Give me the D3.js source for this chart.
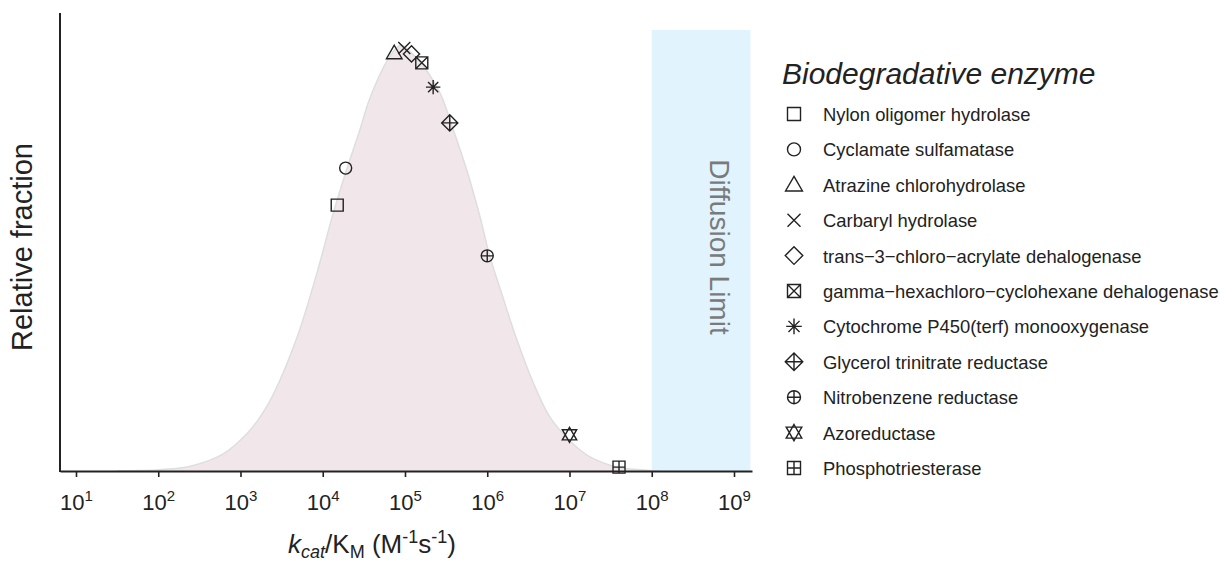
<!DOCTYPE html>
<html>
<head>
<meta charset="utf-8">
<script src="https://cdn.jsdelivr.net/npm/d3@7"></script>
<style>
  body { margin: 0; background: #ffffff; }
  text { font-family: "Liberation Sans", Arial, Helvetica, sans-serif; fill: #222; }
</style>
</head>
<body>
<div id="chart"></div>
<script>
// density curve (log10 of kcat/KM, relative fraction)
var curveLogK = [1.5, 1.78, 2.02, 2.39, 2.79, 3.08, 3.25, 3.40, 3.69, 3.93, 4.12, 4.29, 4.45, 4.57, 4.78, 4.90, 4.96,
                 5.02, 5.22, 5.43, 5.58, 5.75, 5.91, 6.03, 6.19, 6.36, 6.56, 6.76, 7.01, 7.25, 7.58, 7.94, 8.1];
var curveFrac = [0, 0.001, 0.003, 0.011, 0.040, 0.088, 0.130, 0.180, 0.315, 0.465, 0.600, 0.707, 0.800, 0.873, 0.962, 0.994, 1.0,
                 0.992, 0.951, 0.885, 0.805, 0.707, 0.598, 0.505, 0.408, 0.308, 0.207, 0.127, 0.070, 0.033, 0.009, 0.002, 0];

// biodegradative enzymes
var enzymeNames = ["Nylon oligomer hydrolase", "Cyclamate sulfamatase", "Atrazine chlorohydrolase",
                   "Carbaryl hydrolase", "trans\u22123\u2212chloro\u2212acrylate dehalogenase",
                   "gamma\u2212hexachloro\u2212cyclohexane dehalogenase", "Cytochrome P450(terf) monooxygenase",
                   "Glycerol trinitrate reductase", "Nitrobenzene reductase", "Azoreductase", "Phosphotriesterase"];
var enzymeKcat = [1.5e4, 1.9e4, 7.4e4, 9.8e4, 1.2e5, 1.6e5, 2.2e5, 3.5e5, 1.0e6, 1.0e7, 4.0e7];
var enzymeFrac = [0.624, 0.711, 0.981, 0.993, 0.979, 0.958, 0.901, 0.817, 0.505, 0.085, 0.009];
var enzymeShape = ["square", "circle", "triangle", "cross", "diamond", "squareCross", "asterisk",
                   "diamondPlus", "circlePlus", "david", "squarePlus"];

// tick exponents and the diffusion limit band
var tickExponents = [1, 2, 3, 4, 5, 6, 7, 8, 9];
var diffusionBand = [1e8, Math.pow(10, 9.2)];

var width = 1220, height = 564;

var svg = d3.select("#chart").append("svg")
  .attr("width", width)
  .attr("height", height);

var xScale = d3.scaleLog()
  .domain([Math.pow(10, 0.8055), Math.pow(10, 9.219)])
  .range([60, 752]);

var yScale = d3.scaleLinear()
  .domain([0, 1.075])
  .range([471, 13]);

// diffusion limit band
svg.append("rect")
  .attr("x", xScale(diffusionBand[0]))
  .attr("y", 30)
  .attr("width", xScale(diffusionBand[1]) - xScale(diffusionBand[0]))
  .attr("height", yScale(0) - 30)
  .style("fill", "#e1f3fc");

svg.append("text")
  .attr("transform", "translate(" + 710 + "," + 247 + ") rotate(90)")
  .attr("text-anchor", "middle")
  .style("font-size", "28px")
  .style("fill", "#7a7a7a")
  .text("Diffusion Limit");

// density area
var curve = curveLogK.map(function(d, i) { return [d, curveFrac[i]]; });

var area = d3.area()
  .x(function(d) { return xScale(Math.pow(10, d[0])); })
  .y0(yScale(0))
  .y1(function(d) { return yScale(d[1]); })
  .curve(d3.curveCatmullRom.alpha(0.5));

var line = d3.line()
  .x(function(d) { return xScale(Math.pow(10, d[0])); })
  .y(function(d) { return yScale(d[1]); })
  .curve(d3.curveCatmullRom.alpha(0.5));

svg.append("path")
  .datum(curve)
  .attr("d", area)
  .style("fill", "#f1e7eb");

svg.append("path")
  .datum(curve)
  .attr("d", line)
  .style("fill", "none")
  .style("stroke", "#dedede")
  .style("stroke-width", 1.5);

// x axis with 10^n labels
var xAxis = d3.axisBottom(xScale)
  .tickValues(tickExponents.map(function(e) { return Math.pow(10, e); }))
  .tickSize(6)
  .tickSizeOuter(0)
  .tickFormat(function() { return ""; });

var gx = svg.append("g")
  .attr("transform", "translate(0," + yScale(0) + ")")
  .call(xAxis);

gx.select(".domain").style("stroke", "#222").style("stroke-width", 2);
gx.selectAll(".tick line").style("stroke", "#222").style("stroke-width", 1.6);

gx.selectAll(".tick text")
  .attr("y", 39)
  .attr("dy", 0)
  .style("font-size", "22px")
  .style("font-family", "'Liberation Sans', Arial, sans-serif")
  .style("fill", "#222")
  .each(function(d) {
    var t = d3.select(this);
    t.append("tspan").text("10");
    t.append("tspan").attr("dy", -9).style("font-size", "15px").text(Math.round(Math.log10(d)));
  });

// y axis is just a line
svg.append("line")
  .attr("x1", 60).attr("x2", 60)
  .attr("y1", 13).attr("y2", yScale(0) + 1)
  .style("stroke", "#222")
  .style("stroke-width", 2);

// axis titles
svg.append("text")
  .attr("transform", "translate(" + 32 + "," + 247 + ") rotate(-90)")
  .attr("text-anchor", "middle")
  .style("font-size", "29px")
  .text("Relative fraction");

var xt = svg.append("text")
  .attr("x", 372)
  .attr("y", 553)
  .attr("text-anchor", "middle")
  .style("font-size", "26px");
xt.append("tspan").style("font-style", "italic").text("k");
xt.append("tspan").style("font-style", "italic").style("font-size", "18px").attr("dy", 5).text("cat");
xt.append("tspan").attr("dy", -5).text("/K");
xt.append("tspan").style("font-size", "18px").attr("dy", 5).text("M");
xt.append("tspan").attr("dy", -5).text(" (M");
xt.append("tspan").style("font-size", "18px").attr("dy", -10).text("-1");
xt.append("tspan").attr("dy", 10).text("s");
xt.append("tspan").style("font-size", "18px").attr("dy", -10).text("-1");
xt.append("tspan").attr("dy", 10).text(")");

/*****************
Function: symbolPath - returns a path for an R style plotting symbol of half size r
******************/
function symbolPath(shape, r)
{
  var sq = "M" + (-r) + "," + (-r) + "h" + 2 * r + "v" + 2 * r + "h" + (-2 * r) + "Z";
  var cross = "M" + (-r) + "," + (-r) + "L" + r + "," + r + "M" + (-r) + "," + r + "L" + r + "," + (-r);
  var plus = "M" + (-r) + ",0H" + r + "M0," + (-r) + "V" + r;
  var dr = r * 1.35;
  var dia = "M0," + (-dr) + "L" + dr + ",0L0," + dr + "L" + (-dr) + ",0Z";
  var diaPlus = "M" + (-dr) + ",0H" + dr + "M0," + (-dr) + "V" + dr;
  var circ = "M" + r + ",0A" + r + "," + r + " 0 1,1 " + (-r) + ",0A" + r + "," + r + " 0 1,1 " + r + ",0Z";
  var tu = "M0," + (-1.25 * r) + "L" + (1.2 * r) + "," + (0.85 * r) + "L" + (-1.2 * r) + "," + (0.85 * r) + "Z";
  var td = "M0," + (1.25 * r) + "L" + (1.2 * r) + "," + (-0.85 * r) + "L" + (-1.2 * r) + "," + (-0.85 * r) + "Z";
  var ar = r * 1.2, ad = r * 0.85;
  var star = "M" + (-ar) + ",0H" + ar + "M0," + (-ar) + "V" + ar +
             "M" + (-ad) + "," + (-ad) + "L" + ad + "," + ad + "M" + (-ad) + "," + ad + "L" + ad + "," + (-ad);
  if (shape == "square") return sq;
  if (shape == "circle") return circ;
  if (shape == "triangle") return "M0," + (-1.3 * r) + "L" + (1.3 * r) + "," + (0.95 * r) + "L" + (-1.3 * r) + "," + (0.95 * r) + "Z";
  if (shape == "cross") return cross;
  if (shape == "diamond") return dia;
  if (shape == "squareCross") return sq + cross;
  if (shape == "asterisk") return star;
  if (shape == "diamondPlus") return dia + diaPlus;
  if (shape == "circlePlus") return circ + plus;
  if (shape == "david") return tu + td;
  if (shape == "squarePlus") return sq + plus;
  return sq;
}

// enzyme markers on the curve
svg.append("g")
  .selectAll(".marker")
  .data(enzymeNames)
  .enter()
  .append("path")
  .attr("class", "marker")
  .attr("d", function(d, i) { return symbolPath(enzymeShape[i], 6); })
  .attr("transform", function(d, i)
  {
    return "translate(" + xScale(enzymeKcat[i]) + "," + yScale(enzymeFrac[i]) + ")";
  })
  .style("fill", "none")
  .style("stroke", "#222")
  .style("stroke-width", 1.4);

// legend
var legend = svg.append("g").attr("transform", "translate(782,0)");

legend.append("text")
  .attr("x", 0)
  .attr("y", 84)
  .style("font-size", "30px")
  .style("font-style", "italic")
  .text("Biodegradative enzyme");

var rows = legend.selectAll(".row")
  .data(enzymeNames)
  .enter()
  .append("g")
  .attr("class", "row")
  .attr("transform", function(d, i) { return "translate(0," + (114 + i * 35.4) + ")"; });

rows.append("path")
  .attr("d", function(d, i) { return symbolPath(enzymeShape[i], 6.5); })
  .attr("transform", "translate(12,0)")
  .style("fill", "none")
  .style("stroke", "#222")
  .style("stroke-width", 1.4);

rows.append("text")
  .attr("x", 41)
  .attr("y", 7)
  .style("font-size", "18.4px")
  .text(function(d) { return d; });
</script>
</body>
</html>
